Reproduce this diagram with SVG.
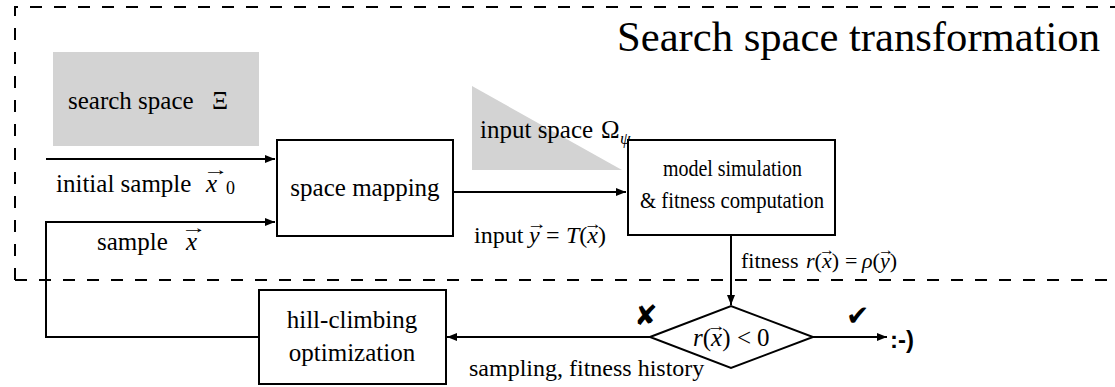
<svg xmlns="http://www.w3.org/2000/svg" width="1115" height="387" viewBox="0 0 1115 387">
<style>
.t{font-family:"Liberation Serif","DejaVu Serif",serif;font-size:25px;fill:#000}
.i{font-style:italic}
.m{font-size:24px}
.l{font-size:24px}
.f{font-size:22px}
.v{font-family:"Liberation Serif","DejaVu Serif",serif;font-size:16px}
.sym{font-family:"DejaVu Sans",sans-serif;font-size:28px;font-weight:bold}
.box{fill:#fff;stroke:#000;stroke-width:2}
.ln{fill:none;stroke:#000;stroke-width:2}
.dash{fill:none;stroke:#000;stroke-width:2;stroke-dasharray:12 12}
.gray{fill:#d3d3d3}
</style>
<defs>
<marker id="ah" markerWidth="10" markerHeight="8" refX="10" refY="4" orient="auto" markerUnits="userSpaceOnUse">
<path d="M0,0 L10,4 L0,8 z" fill="#000"/>
</marker>
</defs>
<g id="frame">
<path class="dash" d="M15,280 V7 H1115"/>
<path class="dash" d="M15,280 H1115"/>
<text class="t" x="617" y="51" style="font-size:42px" textLength="483" lengthAdjust="spacingAndGlyphs">Search space transformation</text>
</g>
<g id="search-space">
<rect class="gray" x="53" y="52" width="206" height="94"/>
<text class="t" x="68" y="109">search space<tspan x="212">Ξ</tspan></text>
</g>
<g id="input-space">
<polygon class="gray" points="472,86 472,170 622,170"/>
<text class="t" x="480" y="138">input space<tspan x="601">Ω</tspan><tspan class="i" style="font-size:17px" x="620" dy="6">ψ</tspan></text>
</g>
<g id="space-mapping">
<rect class="box" x="277" y="140" width="176" height="96"/>
<text class="t" x="365" y="196" text-anchor="middle">space mapping</text>
</g>
<g id="model">
<rect class="box" x="628" y="140" width="207" height="95"/>
<text class="t m" x="663" y="176" textLength="139" lengthAdjust="spacingAndGlyphs">model simulation</text>
<text class="t m" x="640" y="208" textLength="184" lengthAdjust="spacingAndGlyphs">&amp; fitness computation</text>
</g>
<g id="hill-climbing">
<rect class="box" x="259" y="290" width="187" height="94"/>
<text class="t" x="352" y="328" text-anchor="middle">hill-climbing</text>
<text class="t" x="352" y="361" text-anchor="middle">optimization</text>
</g>
<g id="decision">
<polygon class="box" points="650,337 731,306 813,337 731,368"/>
<text class="t" x="693" y="346"><tspan class="i">r</tspan>(<tspan class="i">x</tspan>)<tspan x="737">&lt;</tspan><tspan x="757">0</tspan></text>
<text class="v" x="707" y="331" textLength="19" lengthAdjust="spacingAndGlyphs">→</text>
</g>
<g id="happy">
<text x="890" y="348" style="font-family:'Liberation Sans',Arial,sans-serif;font-weight:bold;font-size:24px">:-)</text>
</g>
<g id="connectors">
<path class="ln" d="M46,159 H275" marker-end="url(#ah)"/>
<path class="ln" d="M259,337 H46 V222 H275" marker-end="url(#ah)"/>
<path class="ln" d="M453,192 H626" marker-end="url(#ah)"/>
<path class="ln" d="M731,235 V305" marker-end="url(#ah)"/>
<path class="ln" d="M650,337 H447" marker-end="url(#ah)"/>
<path class="ln" d="M813,337 H887" marker-end="url(#ah)"/>
</g>
<g id="labels">
<text class="t" x="56" y="192">initial sample<tspan class="i" x="206">x</tspan><tspan style="font-size:18px" x="226" dy="2">0</tspan></text>
<text class="v" x="203" y="175" textLength="26" lengthAdjust="spacingAndGlyphs">→</text>
<text class="t" x="97" y="250">sample<tspan class="i" x="186">x</tspan></text>
<text class="v" x="181" y="233" textLength="26" lengthAdjust="spacingAndGlyphs">→</text>
<text class="t l" x="474" y="243">input<tspan class="i" x="529">y</tspan><tspan x="546">=</tspan><tspan class="i" x="566">T</tspan>(<tspan class="i">x</tspan>)</text>
<text class="v" x="527" y="229" textLength="20" lengthAdjust="spacingAndGlyphs">→</text>
<text class="v" x="584" y="229" textLength="18" lengthAdjust="spacingAndGlyphs">→</text>
<text class="t f" x="741" y="268">fitness<tspan class="i" x="806">r</tspan>(<tspan class="i">x</tspan>)<tspan x="845">=</tspan><tspan class="i" x="862">ρ</tspan>(<tspan class="i">y</tspan>)</text>
<text class="v" x="819" y="255" textLength="16" lengthAdjust="spacingAndGlyphs">→</text>
<text class="v" x="878" y="255" textLength="16" lengthAdjust="spacingAndGlyphs">→</text>
<text class="t l" x="469" y="376">sampling, fitness history</text>
<text class="sym" x="634" y="325">✘</text>
<text class="sym" x="846" y="325">✔</text>
</g>
</svg>
